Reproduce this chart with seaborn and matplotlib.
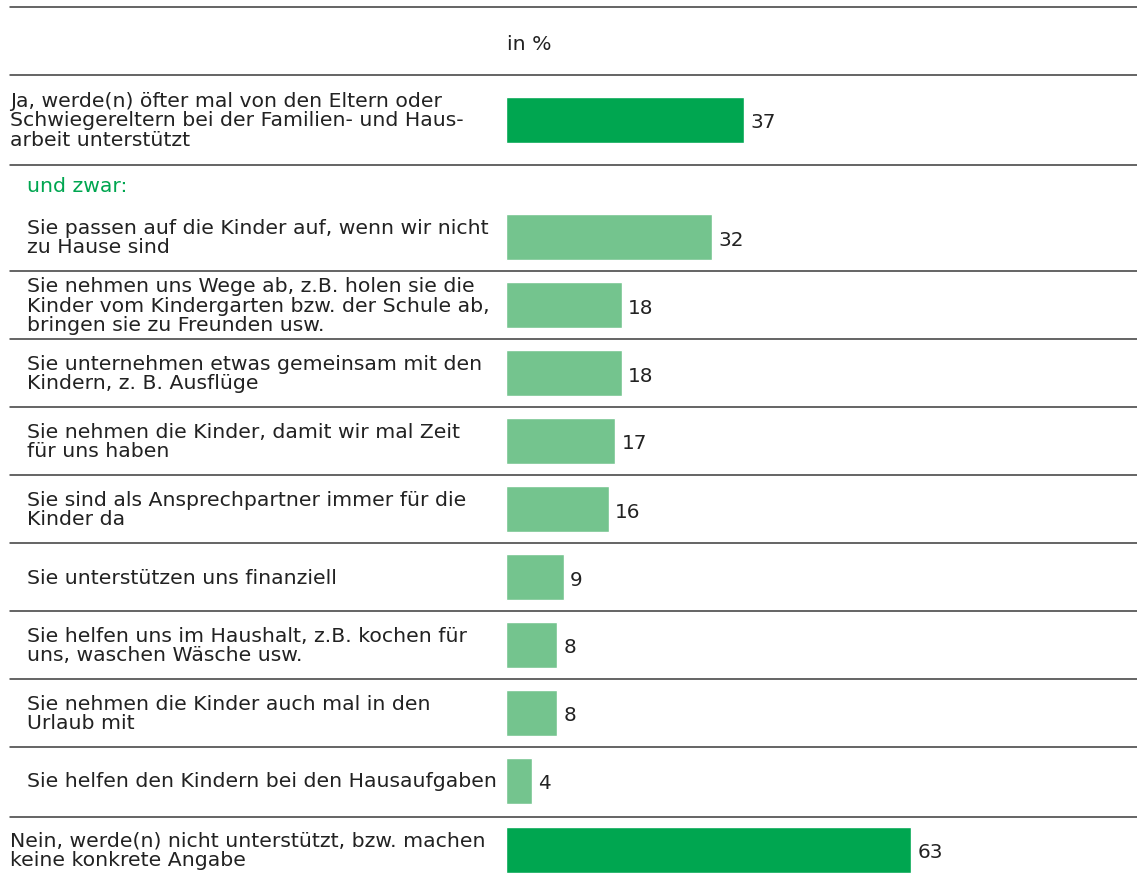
import matplotlib
matplotlib.use("Agg")
import matplotlib.pyplot as plt
import seaborn as sns
from matplotlib.transforms import blended_transform_factory as blend
from matplotlib.lines import Line2D

sns.set_theme(style="white")
plt.rcParams["font.family"] = ["DejaVu Sans"]

# ---- data -------------------------------------------------------------
unit_label = "in %"
yes_labels = ["Ja, werde(n) öfter mal von den Eltern oder\n"
              "Schwiegereltern bei der Familien- und Haus-\n"
              "arbeit unterstützt"]
yes_values = [37]
intro_label = "und zwar:"
sub_labels = [
    "Sie passen auf die Kinder auf, wenn wir nicht\nzu Hause sind",
    "Sie nehmen uns Wege ab, z.B. holen sie die\nKinder vom Kindergarten bzw. der Schule ab,\nbringen sie zu Freunden usw.",
    "Sie unternehmen etwas gemeinsam mit den\nKindern, z. B. Ausflüge",
    "Sie nehmen die Kinder, damit wir mal Zeit\nfür uns haben",
    "Sie sind als Ansprechpartner immer für die\nKinder da",
    "Sie unterstützen uns finanziell",
    "Sie helfen uns im Haushalt, z.B. kochen für\nuns, waschen Wäsche usw.",
    "Sie nehmen die Kinder auch mal in den\nUrlaub mit",
    "Sie helfen den Kindern bei den Hausaufgaben",
]
sub_values = [32, 18, 18, 17, 16, 9, 8, 8, 4]
no_labels = ["Nein, werde(n) nicht unterstützt, bzw. machen\nkeine konkrete Angabe"]
no_values = [63]

# ---- style ------------------------------------------------------------
DARK = "#00a650"
LIGHT = "#74c48e"
TEXT = "#222222"
RULE = "#3a3a3a"
FS = 14.7
FS_VAL = 14.4

W, H = 1137, 878
fig = plt.figure(figsize=(W / 100, H / 100), dpi=100)

ROW = 68.0          # pixel height of one row
X0 = 506            # left edge of the bars
PX_PER_UNIT = 6.43  # pixels per percentage point
XMAX = (W - X0) / PX_PER_UNIT
BAR_W = 46 / ROW
LEFT_MAIN = 10 / W
LEFT_SUB = 27 / W


def fy(px):
    return 1 - px / H


def panel(top, first_center, bottom, labels, values, color, text_x):
    ax = fig.add_axes([X0 / W, fy(bottom), (W - X0) / W, (bottom - top) / H])
    sns.barplot(x=values, y=labels, orient="h", color=color, saturation=1,
                width=BAR_W, ax=ax)
    ax.set_xlim(0, XMAX)
    ax.set_ylim((bottom - first_center) / ROW, (top - first_center) / ROW)
    ax.axis("off")
    for c in ax.containers:
        for t in ax.bar_label(c, labels=[f"{v:g}" for v in values], padding=4.5,
                              fontsize=FS_VAL, color=TEXT):
            t.set_verticalalignment("center_baseline")
    tr = blend(fig.transFigure, ax.transData)
    for i, lab in enumerate(labels):
        ax.text(text_x, i, lab, transform=tr, ha="left", va="center",
                fontsize=FS, color=TEXT, linespacing=1.01)
    return ax, tr


ax_yes, _ = panel(76, 121, 166, yes_labels, yes_values, DARK, LEFT_MAIN)
ax_sub, tr_sub = panel(204, 238, 817, sub_labels, sub_values, LIGHT, LEFT_SUB)
ax_no, _ = panel(817, 851, 878, no_labels, no_values, DARK, LEFT_MAIN)

# row separators between the sub items
for k in range(len(sub_values) - 1):
    ax_sub.add_line(Line2D([LEFT_MAIN, 1], [k + 0.5, k + 0.5], transform=tr_sub,
                           color=RULE, lw=1.1, clip_on=False))

# frame rules
for y in (8, 76, 166, 818):
    fig.add_artist(Line2D([LEFT_MAIN, 1], [fy(y), fy(y)], color=RULE, lw=1.1))

fig.text(507 / W, fy(45), unit_label, ha="left", va="center",
         fontsize=FS, color=TEXT)
fig.text(LEFT_SUB, fy(186), intro_label, ha="left", va="center",
         fontsize=FS, color=DARK)

fig.savefig("out.png", dpi=100)
